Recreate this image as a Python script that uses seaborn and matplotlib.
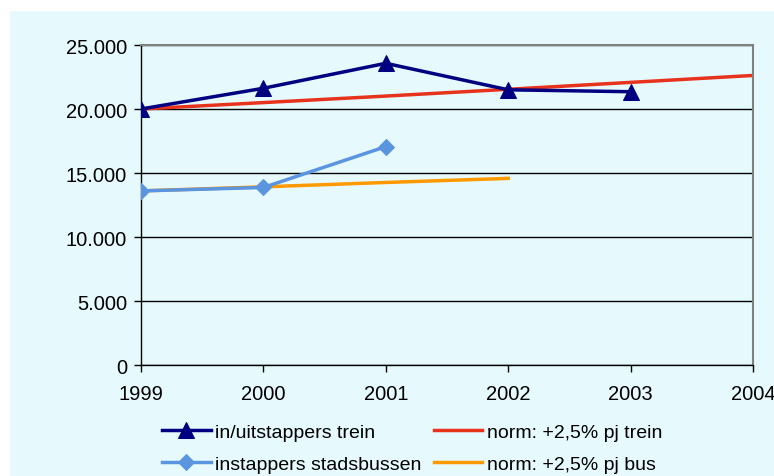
import numpy as np
import pandas as pd
import matplotlib
matplotlib.use("Agg")
import matplotlib.pyplot as plt
import seaborn as sns
from matplotlib.patches import Rectangle
from matplotlib.ticker import FuncFormatter

years = [1999, 2000, 2001, 2002, 2003, 2004]
trein = [20000, 21620, 23570, 21500, 21350, None]
norm_trein = [20000, 20500, 21010, 21540, 22080, 22620]
bus = [13600, 13870, 17060, None, None, None]
norm_bus = [13600, 13920, 14260, 14580, None, None]

labels = ["in/uitstappers trein", "instappers stadsbussen",
          "norm: +2,5% pj trein", "norm: +2,5% pj bus"]
colors = ["#000080", "#5B95E0", "#E8331C", "#FF9900"]
markers = ["^", "D", None, None]

bg = "#E6FAFE"
plt.rcParams['font.family'] = ['Liberation Sans', 'DejaVu Sans']

fig = plt.figure(figsize=(7.74, 4.77), dpi=100)
fig.patch.set_facecolor("white")
fig.patches.append(Rectangle((10 / 774, 0), 1, 1 - 12 / 477, transform=fig.transFigure,
                             facecolor=bg, edgecolor="none", zorder=-10))
ax = fig.add_axes([141 / 774, 1 - 366 / 477, (753 - 141) / 774, (366 - 46) / 477])
ax.set_zorder(5)
ax.set_facecolor(bg)

series = [trein, bus, norm_trein, norm_bus]
for vals, lab, col, mk in zip(series, labels, colors, markers):
    df = pd.DataFrame({"jaar": years, "waarde": vals}).dropna()
    sns.lineplot(data=df, x="jaar", y="waarde", ax=ax, color=col, linewidth=2.5,
                 marker=mk, markersize=11 if mk == "^" else 8, markeredgecolor=col,
                 label=lab, zorder=3 if mk else 2)

ax.set_xlim(1999, 2004)
ax.set_ylim(0, 25000)
ax.set_xticks(years)
ax.set_yticks(range(0, 25001, 5000))
ax.yaxis.set_major_formatter(FuncFormatter(lambda v, p: f"{int(v):,}".replace(",", ".")))
ax.grid(axis="y", color="black", linewidth=1)
ax.set_axisbelow(True)
ax.set_xlabel("")
ax.set_ylabel("")
for s in ["top", "right"]:
    ax.spines[s].set_color("#808080")
    ax.spines[s].set_linewidth(1.5)
for s in ["left", "bottom"]:
    ax.spines[s].set_color("black")
    ax.spines[s].set_linewidth(1)
ax.tick_params(axis="both", labelsize=14.5, length=5, width=1, color="black")
ax.tick_params(axis="x", pad=9)
ax.tick_params(axis="y", pad=5)

handles, labs = ax.get_legend_handles_labels()
ax.get_legend().remove()
fig.legend(handles, labs, ncol=2, loc="upper left",
           bbox_to_anchor=(162 / 774, 1 - 424 / 477), bbox_transform=fig.transFigure,
           frameon=False, fontsize=14, handlelength=2.5, handletextpad=0.25,
           columnspacing=0.6, labelspacing=0.75, borderpad=0, borderaxespad=0)

fig.savefig("out.png", dpi=100, facecolor=fig.get_facecolor())
